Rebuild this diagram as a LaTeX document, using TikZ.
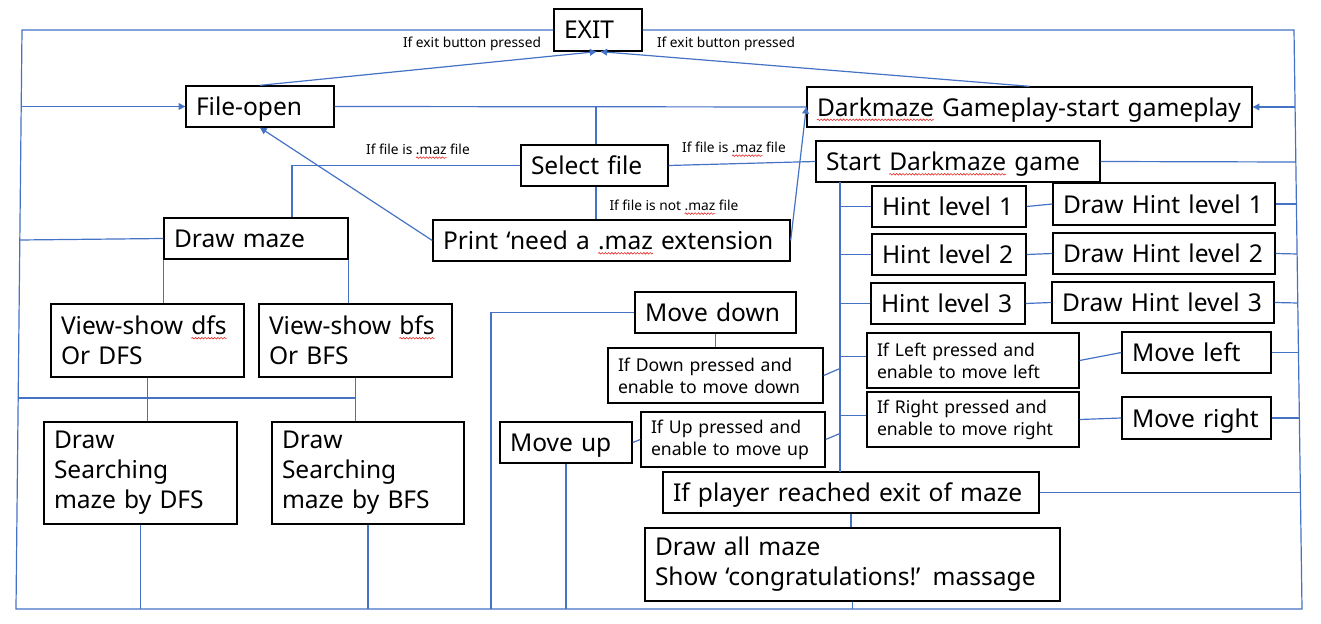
\documentclass[tikz,border=0pt]{standalone}
\usepackage{fontspec}
\setmainfont{Noto Sans}
\usetikzlibrary{arrows.meta,calc,decorations.pathmorphing}
\definecolor{ln}{RGB}{68,114,196}
\definecolor{spellred}{RGB}{230,40,40}
\newbox\splbox
\newdimen\splw
\newcommand\spl[1]{\setbox\splbox\hbox{#1}\splw=\wd\splbox\rlap{\tikz[overlay]\draw[spellred,line width=0.45pt,decorate,decoration={snake,amplitude=0.6pt,segment length=2.4pt}] (0pt,-2.6pt) -- (\splw,-2.6pt);}\box\splbox\relax}
\newcommand\mybox[7][box]{%
  \pgfmathsetmacro\bxw{(#5-#3)*0.75-15}%
  \pgfmathsetmacro\bxh{(#6-#4)*0.75}%
  \pgfmathsetmacro\bxx{(#3+#5)/2}%
  \pgfmathsetmacro\bxy{(#4+#6)/2}%
  \node[#1,text width=\bxw pt,minimum height=\bxh pt] (#2) at (\bxx,\bxy) {#7};}
\begin{document}
\begin{tikzpicture}[x=0.75pt,y=-0.75pt,
  mlbox/.style={draw=black,line width=1pt,fill=white,inner xsep=7.5pt,inner ysep=0pt,align=left,font=\fontsize{18.4}{22.5}\selectfont},
  box/.style={mlbox,text depth=0pt},
  sbox/.style={mlbox,font=\fontsize{13.2}{16.5}\selectfont},
  lab/.style={font=\fontsize{10.3}{12}\selectfont,inner sep=0pt},
  con/.style={draw=ln,line width=0.9pt},
  arr/.style={con,-{Triangle[length=5pt,width=5pt]}}]
\useasboundingbox (0,0) rectangle (1321,624);
% frame corners
\coordinate (TL) at (22,30);
\coordinate (BL) at (16,609);
\coordinate (BR) at (1302,609);
\coordinate (TR) at (1294,30);
% boxes
\mybox{exit}{554}{9}{642}{51}{EXIT}
\mybox{fo}{186}{86}{334}{127}{File-open}
\mybox{dg}{807}{87}{1252}{127}{\mbox{\spl{Darkmaze} Gameplay-start gameplay}}
\mybox{sf}{521}{145}{668}{186}{Select file}
\mybox{sd}{816}{141}{1100}{182}{Start \spl{Darkmaze} game}
\mybox{h1}{872}{186}{1026}{227}{Hint level 1}
\mybox{dh1}{1053}{183}{1275}{225}{Draw Hint level 1}
\mybox{h2}{872}{234}{1026}{275}{Hint level 2}
\mybox{dh2}{1053}{233}{1275}{274}{Draw Hint level 2}
\mybox{h3}{871}{283}{1025}{324}{Hint level 3}
\mybox{dh3}{1052}{282}{1274}{323}{Draw Hint level 3}
\mybox{dm}{164}{218}{348}{259}{Draw maze}
\mybox{pr}{433}{220}{790}{261}{\mbox{Print ‘need a \spl{.maz} extension}}
\mybox[mlbox]{vd}{51}{304}{244}{377}{View-show \spl{dfs}\\Or DFS}
\mybox[mlbox]{vb}{259}{304}{452}{377}{View-show \spl{bfs}\\Or BFS}
\mybox[mlbox]{dd}{44}{422}{237}{524}{Draw\\Searching\\maze by DFS}
\mybox[mlbox]{db}{272}{422}{464}{524}{Draw\\Searching\\maze by BFS}
\mybox{md}{635}{292}{796}{333}{Move down}
\mybox[sbox]{idn}{608}{348}{823}{403}{If Down pressed and\\enable to move down}
\mybox[sbox]{iup}{641}{412}{825}{467}{If Up pressed and\\enable to move up}
\mybox{mu}{500}{422}{632}{463}{Move up}
\mybox[sbox]{il}{867}{333}{1079}{388}{If Left pressed and\\enable to move left}
\mybox[sbox]{ir}{867}{392}{1079}{447}{If Right pressed and\\enable to move right}
\mybox{ml}{1122}{332}{1271}{373}{Move left}
\mybox{mr}{1122}{397}{1271}{439}{Move right}
\mybox{ip}{663}{472}{1039}{513}{If player reached exit of maze}
\mybox[mlbox]{da}{645}{528}{1060}{601}{Draw all maze\\\mbox{Show ‘congratulations!’ massage}}
% labels
\node[lab] (l1) at (472,44) {If exit button pressed};
\node[lab] (l2) at (726,44) {If exit button pressed};
\node[lab] (l3) at (418,149) {If file is \spl{.maz} file};
\node[lab] (l4) at (734,147) {If file is \spl{.maz} file};
\node[lab] (l5) at (674,205) {If file is not \spl{.maz} file};
% frame
\draw[con] (exit.west) -- (TL) -- (BL) -- (BR) -- (TR) -- (exit.east);
% points on the frame
\coordinate (L107) at (21.2,106.5);
\coordinate (L240) at (19.9,240);
\coordinate (L398) at (18.2,398);
\coordinate (R107) at (1295.1,107);
\coordinate (R162) at (1295.8,162);
\coordinate (R204) at (1296.4,204);
\coordinate (R254) at (1297.1,254);
\coordinate (R303) at (1297.8,303);
\coordinate (R352) at (1298.4,352.5);
\coordinate (R418) at (1299.4,418);
\coordinate (R492) at (1300.4,492.5);
\coordinate (J) at (596,106.5);
\coordinate (T0) at (840,182);
\coordinate (T1) at (840,472);
\coordinate (K1) at (292,165.5);
\coordinate (M1) at (491,312.5);
\coordinate (M2) at (491,609);
% connectors
\draw[arr] (L107) -- (fo.west);
\draw[arr] (fo.north) -- ($(exit.south)+(-1.5,0)$);
\draw[arr] (dg.north) -- ($(exit.south)+(2.5,0)$);
\draw[con] (fo.east) -- (dg.west);
\draw[con] (J) -- (J |- sf.north);
\draw[con] (sf.west) -- (K1) -- (K1 |- dm.north);
\draw[con] (sf.east) -- (sd.west);
\draw[con] (J |- sf.south) -- (J |- pr.north);
\draw[arr] (pr.west) -- (fo.south);
\draw[arr] (pr.east) -- (dg.west);
\draw[arr] (R107) -- (dg.east);
\draw[con] (sd.east) -- (R162);
\draw[con] (T0) -- (T1);
\draw[con] (T0 |- h1.west) -- (h1.west);
\draw[con] (T0 |- h2.west) -- (h2.west);
\draw[con] (T0 |- h3.west) -- (h3.west);
\draw[con] ($(T0 |- il.west)+(0,-4)$) -- ($(il.west)+(0,-4)$);
\draw[con] ($(T0 |- ir.west)+(0,-4)$) -- ($(ir.west)+(0,-4)$);
\draw[con] (h1.east) -- (dh1.west);
\draw[con] (h2.east) -- (dh2.west);
\draw[con] (h3.east) -- (dh3.west);
\draw[con] (dh1.east) -- (R204);
\draw[con] (dh2.east) -- (R254);
\draw[con] (dh3.east) -- (R303);
\draw[con] (il.east) -- (ml.west);
\draw[con] (ir.east) -- (mr.west);
\draw[con] (ml.east) -- (R352);
\draw[con] (mr.east) -- (R418);
\draw[con] (ip.east) -- (R492);
\draw[con] (idn.east) -- ($(T0 |- idn.east)+(0,-7)$);
\draw[con] (iup.east) -- ($(T0 |- iup.east)+(0,-6)$);
\draw[con] (md.west) -- (M1) -- (M2);
\draw[con] (md.south) -- (idn.north);
\draw[con] (mu.east) -- (iup.west);
\draw[con] (mu.south) -- (mu.south |- BR);
\draw[con] (ip.south) -- (ip.south |- da.north);
\draw[con] (da.south) -- (da.south |- BR);
\draw[con] (dm.west) -- (L240);
\draw[con] (dm.south west) -- (dm.south west |- vd.north);
\draw[con] (dm.south east) -- (dm.south east |- vb.north);
\draw[con] (vd.south) -- (vd.south |- dd.north);
\draw[con] (vb.south) -- (vb.south |- db.north);
\draw[con] (L398) -- (vb.south |- L398);
\draw[con] (dd.south) -- (dd.south |- BR);
\draw[con] (db.south) -- (db.south |- BR);
\end{tikzpicture}
\end{document}
